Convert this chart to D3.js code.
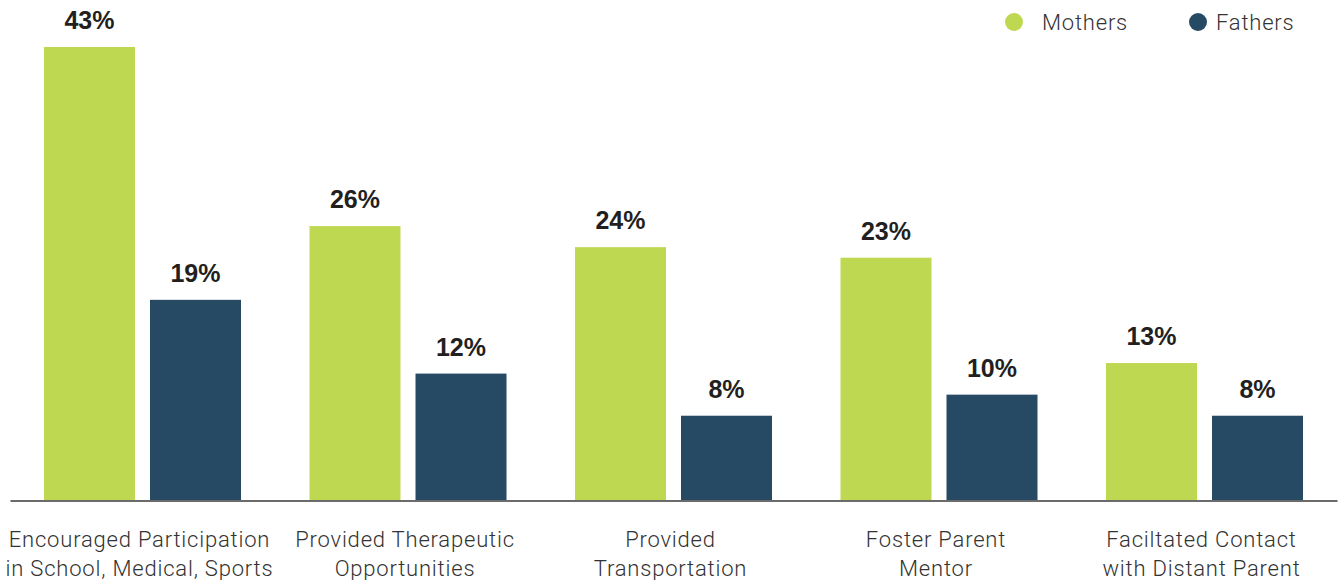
<!DOCTYPE html>
<html>
<head>
<meta charset="utf-8">
<script src="https://cdn.jsdelivr.net/npm/d3@7"></script>
<style>
  html, body { margin: 0; padding: 0; background: #fff; }
  svg { display: block; }
</style>
</head>
<body>
<svg id="chart" width="1338" height="580"></svg>
<script>
const categories = [
  ["Encouraged Participation", "in School, Medical, Sports"],
  ["Provided Therapeutic", "Opportunities"],
  ["Provided", "Transportation"],
  ["Foster Parent", "Mentor"],
  ["Faciltated Contact", "with Distant Parent"]
];
const seriesNames = ["Mothers", "Fathers"];
const mothers = [43, 26, 24, 23, 13];
const fathers = [19, 12, 8, 10, 8];
const colors = ["#bfd852", "#264a64"];

const svg = d3.select("#chart");
const baseline = 500;
const labelFont = "Roboto, sans-serif";

const keys = categories.map((c, i) => i);
const x0 = d3.scaleBand().domain(keys).range([44, 1303]).paddingInner(0.258).paddingOuter(0);
const x1 = d3.scaleBand().domain(seriesNames).range([0, x0.bandwidth()]).paddingInner(0.1415).paddingOuter(0);
const y = d3.scaleLinear().domain([0, 47.46]).range([baseline, 0]);
const color = d3.scaleOrdinal().domain(seriesNames).range(colors);

const rows = keys.map(i => ({ i, values: [
  { name: "Mothers", v: mothers[i] },
  { name: "Fathers", v: fathers[i] }
]}));

const groups = svg.append("g").selectAll("g")
  .data(rows).join("g")
  .attr("transform", d => `translate(${x0(d.i)},0)`);

groups.selectAll("rect")
  .data(d => d.values).join("rect")
  .attr("x", d => x1(d.name))
  .attr("y", d => y(d.v))
  .attr("width", x1.bandwidth())
  .attr("height", d => baseline - y(d.v))
  .attr("fill", d => color(d.name));

groups.selectAll("text.val")
  .data(d => d.values).join("text")
  .attr("class", "val")
  .attr("x", d => x1(d.name) + x1.bandwidth() / 2)
  .attr("y", d => y(d.v) - 18)
  .attr("text-anchor", "middle")
  .attr("font-family", "Liberation Sans, Arial, sans-serif")
  .attr("font-weight", "bold")
  .attr("font-size", 25)
  .attr("fill", "#231f20")
  .text(d => d.v + "%");

// baseline axis
const xAxis = d3.axisBottom(d3.scaleLinear().domain([0, 1]).range([10, 1337])).ticks(0).tickSize(0).tickFormat("");
svg.append("g")
  .attr("transform", `translate(0,${baseline + 0.5})`)
  .call(xAxis)
  .call(g => g.select(".domain").attr("stroke", "#3a3a3a").attr("stroke-width", 1.5));

// category labels, two lines each
const labels = svg.append("g").selectAll("text")
  .data(rows).join("text")
  .attr("x", d => x0(d.i) + x0.bandwidth() / 2 - 3)
  .attr("y", 547)
  .attr("text-anchor", "middle")
  .attr("font-family", labelFont)
  .attr("font-weight", 300)
  .attr("font-size", 22)
  .attr("letter-spacing", 0.8)
  .attr("fill", "#333");
labels.selectAll("tspan")
  .data(d => categories[d.i]).join("tspan")
  .attr("x", function() { return d3.select(this.parentNode).attr("x"); })
  .attr("dy", (d, j) => j === 0 ? 0 : 29)
  .text(d => d);

// legend
const legendPos = [{ cx: 1014, tx: 1042 }, { cx: 1198, tx: 1216 }];
const legend = svg.append("g").selectAll("g")
  .data(seriesNames).join("g");
legend.append("circle")
  .attr("cx", (d, i) => legendPos[i].cx)
  .attr("cy", 22)
  .attr("r", 9)
  .attr("fill", d => color(d));
legend.append("text")
  .attr("x", (d, i) => legendPos[i].tx)
  .attr("y", 30)
  .attr("font-family", labelFont)
  .attr("font-weight", 300)
  .attr("font-size", 22)
  .attr("letter-spacing", 0.8)
  .attr("fill", "#333")
  .text(d => d);
</script>
</body>
</html>
